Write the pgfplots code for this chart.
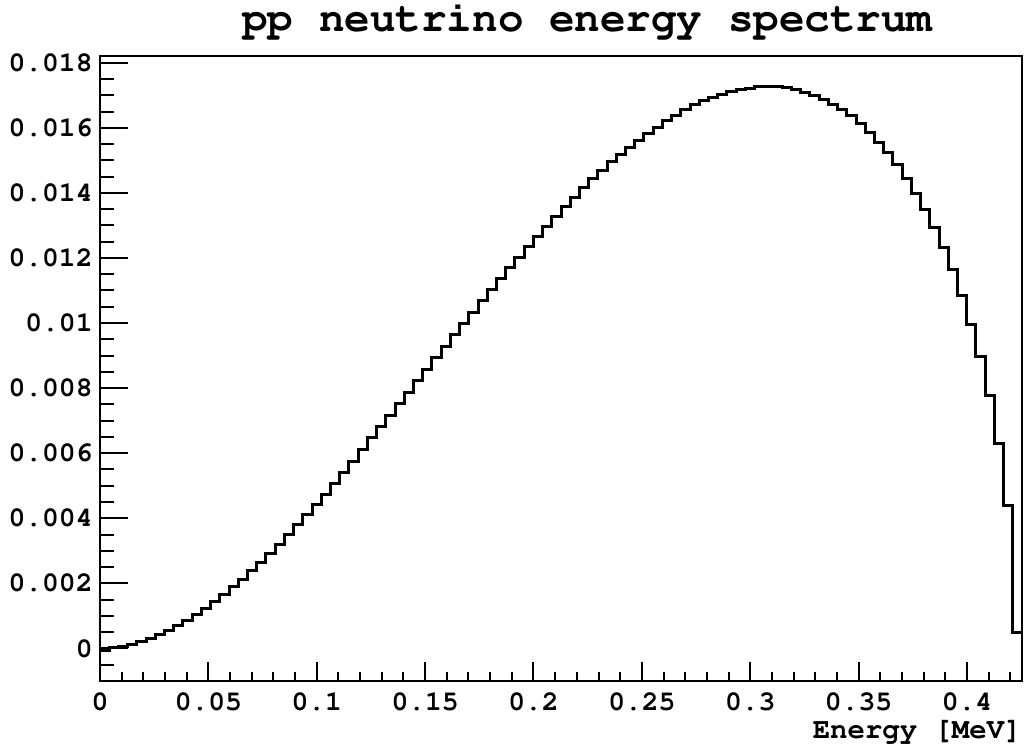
\documentclass[border=0pt]{standalone}
\usepackage[T1]{fontenc}
\usepackage{courier}
\renewcommand{\familydefault}{\ttdefault}
\usepackage{pgfplots}
\pgfplotsset{compat=1.18}
\pgfplotsset{
  rootframe/.style={
    at={(0,0)}, anchor=south west,
    scale only axis, width=461bp, height=312.65bp,
    xmin=0, xmax=0.4254, ymin=-0.001, ymax=0.018215,
    axis line style={line width=1bp},
    tick pos=left, tick align=inside,
    scaled ticks=false,
    every tick/.append style={line width=1bp, black},
    ticklabel style={font=\fontsize{14bp}{16bp}\selectfont\ttfamily\bfseries, inner sep=0pt},
  }
}
\begin{document}
\begin{tikzpicture}
% axis with y ticks, data and title
\begin{axis}[
  rootframe, name=ax,
  major tick length=13.85bp, minor tick length=7bp,
  xtick=\empty,
  ytick={0,0.002,0.004,0.006,0.008,0.01,0.012,0.014,0.016,0.018},
  yticklabels={0,0.002,0.004,0.006,0.008,0.01,0.012,0.014,0.016,0.018},
  minor ytick={-0.0005,0.0005,0.001,0.0015,0.0025,0.003,0.0035,0.0045,0.005,0.0055,0.0065,0.007,0.0075,0.0085,0.009,0.0095,0.0105,0.011,0.0115,0.0125,0.013,0.0135,0.0145,0.015,0.0155,0.0165,0.017,0.0175},
  yticklabel style={anchor=east, xshift=-3.5bp},
  title={pp neutrino energy spectrum},
  title style={at={(rel axis cs:0.5287,1)}, anchor=base, yshift=5.9bp, inner sep=0pt, font=\fontsize{21.3bp}{24bp}\selectfont\ttfamily\bfseries},
]
\addplot[const plot, line width=1.5bp, black] table {
x y
0 -0.00007
0.004254 0.0000235
0.008508 0.0000646
0.012762 0.000125
0.017016 0.000205
0.02127 0.000302
0.025524 0.000418
0.029778 0.000550
0.034032 0.000698
0.038286 0.000861
0.04254 0.001040
0.046794 0.001232
0.051048 0.001438
0.055302 0.001657
0.059556 0.001889
0.06381 0.002132
0.068064 0.002386
0.072318 0.002650
0.076572 0.002925
0.080826 0.003208
0.08508 0.003500
0.089334 0.003801
0.093588 0.004108
0.097842 0.004423
0.102096 0.004744
0.10635 0.005070
0.110604 0.005402
0.114858 0.005738
0.119112 0.00612
0.123366 0.00647
0.12762 0.00683
0.131874 0.00716
0.136128 0.00752
0.140382 0.00788
0.144636 0.00824
0.14889 0.00858
0.153144 0.00893
0.157398 0.00928
0.161652 0.00964
0.165906 0.00998
0.17016 0.01033
0.174414 0.01068
0.178668 0.01103
0.182922 0.01137
0.187176 0.01170
0.19143 0.01202
0.195684 0.01235
0.199938 0.01265
0.204192 0.01296
0.208446 0.01327
0.2127 0.01357
0.216954 0.01386
0.221208 0.01415
0.225462 0.01443
0.229716 0.01469
0.23397 0.01496
0.238224 0.01519
0.242478 0.01540
0.246732 0.01561
0.250986 0.01582
0.25524 0.01602
0.259494 0.01621
0.263748 0.01639
0.268002 0.01655
0.272256 0.01670
0.27651 0.01683
0.280764 0.01694
0.285018 0.01703
0.289272 0.01711
0.293526 0.01717
0.29778 0.01722
0.302034 0.01726
0.306288 0.01728
0.310542 0.01727
0.314796 0.01725
0.31905 0.01718
0.323304 0.01708
0.327558 0.01698
0.331812 0.01686
0.336066 0.01672
0.34032 0.01655
0.344574 0.01637
0.348828 0.01613
0.353082 0.01585
0.357336 0.01556
0.36159 0.01524
0.365844 0.01486
0.370098 0.01444
0.374352 0.01399
0.378606 0.01350
0.38286 0.01294
0.387114 0.01232
0.391368 0.01163
0.395622 0.01084
0.399876 0.00997
0.40413 0.00897
0.408384 0.00776
0.412638 0.00631
0.416892 0.00438
0.421146 0.00049
0.4254 0.00049
};
\end{axis}
% axis with x ticks and x label
\begin{axis}[
  rootframe,
  major tick length=9.35bp, minor tick length=4.65bp,
  ytick=\empty,
  xtick={0,0.05,0.1,0.15,0.2,0.25,0.3,0.35,0.4},
  xticklabels={0,0.05,0.1,0.15,0.2,0.25,0.3,0.35,0.4},
  minor xtick={0.01,0.02,0.03,0.04,0.06,0.07,0.08,0.09,0.11,0.12,0.13,0.14,0.16,0.17,0.18,0.19,0.21,0.22,0.23,0.24,0.26,0.27,0.28,0.29,0.31,0.32,0.33,0.34,0.36,0.37,0.38,0.39,0.41,0.42},
  xticklabel style={anchor=base, yshift=-14.5bp},
  xlabel={Energy [MeV]},
  xlabel style={at={(rel axis cs:1,0)}, anchor=base east, yshift=-28.75bp, inner sep=0pt, font=\fontsize{14.5bp}{16bp}\selectfont\ttfamily\bfseries},
]
\end{axis}
\path (ax.south west) ++(-50bp,-31.5bp) rectangle ++(512.5bp,372bp);
\end{tikzpicture}
\end{document}
